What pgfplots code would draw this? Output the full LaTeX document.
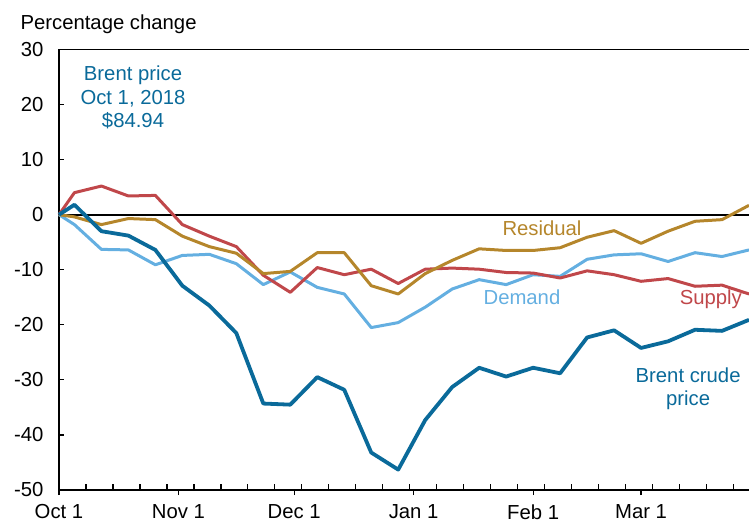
\documentclass[border=0pt]{standalone}
\usepackage{pgfplots}
\usepackage{pgfplotstable}
\pgfplotsset{compat=1.18}
\usepackage{fontspec}
\setmainfont{Liberation Sans}
\definecolor{brent}{HTML}{0A6A9A}
\definecolor{demand}{HTML}{64AFE1}
\definecolor{supply}{HTML}{C0474A}
\definecolor{resid}{HTML}{B5862B}
\newcommand\cf{\fontsize{20.3bp}{24bp}\selectfont}

\pgfplotstableread{
d brent demand supply resid
0 0 0 0 0
4 1.8 -1.8 4.0 -0.4
11 -3.0 -6.3 5.2 -1.8
18 -3.8 -6.4 3.4 -0.7
25 -6.4 -9.1 3.5 -0.9
32 -12.9 -7.4 -1.8 -3.9
39 -16.5 -7.2 -3.9 -5.8
46 -21.5 -8.9 -5.8 -7.0
53 -34.3 -12.7 -11.0 -10.7
60 -34.5 -10.4 -14.1 -10.3
67 -29.5 -13.2 -9.6 -6.9
74 -31.8 -14.4 -10.9 -6.9
81 -43.2 -20.5 -9.9 -12.9
88 -46.3 -19.6 -12.5 -14.4
95 -37.3 -16.8 -9.9 -10.7
102 -31.3 -13.5 -9.7 -8.3
109 -27.8 -11.8 -9.9 -6.2
116 -29.4 -12.7 -10.5 -6.5
123 -27.8 -10.9 -10.6 -6.5
130 -28.8 -11.2 -11.5 -6.0
137 -22.3 -8.1 -10.2 -4.1
144 -21.0 -7.3 -10.9 -2.9
151 -24.2 -7.1 -12.1 -5.2
158 -23.0 -8.5 -11.6 -3.0
165 -20.9 -6.9 -13.0 -1.2
172 -21.1 -7.6 -12.8 -0.9
179 -19.1 -6.4 -14.4 1.7
}\data

\begin{document}
\begin{tikzpicture}
\useasboundingbox (0,0) rectangle (749bp,524bp);
\begin{axis}[
  at={(59bp,34bp)}, anchor=south west,
  scale only axis, width=690bp, height=440.5bp,
  xmin=0, xmax=179, ymin=-50, ymax=30,
  axis x line*=bottom, axis y line*=left,
  axis line style={line width=1.8bp, black},
  xtick={0,31,61,92,123,151},
  xticklabels={Oct 1,Nov 1,Dec 1,Jan 1,Feb 1,Mar 1},
  xtick align=outside,
  extra x ticks={7,14,...,175},
  extra x tick labels={},
  extra x tick style={tick align=inside, major tick length=6bp},
  ytick={-50,-40,-30,-20,-10,0,10,20,30},
  yticklabels={-50,-40,-30,-20,-10,0,10,20,30},
  ytick align=inside,
  major tick length=5bp,
  tick style={line width=1.2bp, black},
  tick label style={font=\cf},
  yticklabel style={xshift=-12bp},
  xticklabel style={yshift=-6bp},
  clip=false,
]
\draw[line width=1.8bp, black] (rel axis cs:0,1) -- (rel axis cs:1,1);
\addplot[line width=2bp, black, forget plot] coordinates {(0,0) (179,0)};
\addplot[line width=3bp, demand, line join=round] table[x=d, y=demand] {\data};
\addplot[line width=3bp, supply, line join=round] table[x=d, y=supply] {\data};
\addplot[line width=3bp, resid, line join=round] table[x=d, y=resid] {\data};
\addplot[line width=3.8bp, brent, line join=round] table[x=d, y=brent] {\data};
\node[anchor=base, font=\cf, text=brent] at (axis cs:19.2,24.4) {Brent price};
\node[anchor=base, font=\cf, text=brent] at (axis cs:19.2,20.05) {Oct 1, 2018};
\node[anchor=base, font=\cf, text=brent] at (axis cs:19.2,15.9) {\$84.94};
\node[anchor=base, font=\cf, text=resid] at (axis cs:125.3,-3.76) {Residual};
\node[anchor=base, font=\cf, text=demand] at (axis cs:120.1,-16.3) {Demand};
\node[anchor=base, font=\cf, text=supply] at (axis cs:169.1,-16.3) {Supply};
\node[anchor=base, font=\cf, text=brent] at (axis cs:163.2,-30.5) {Brent crude};
\node[anchor=base, font=\cf, text=brent] at (axis cs:163.2,-34.7) {price};
\end{axis}
\node[anchor=base west, font=\cf] at (17bp,494bp) {Percentage change};
\end{tikzpicture}
\end{document}
